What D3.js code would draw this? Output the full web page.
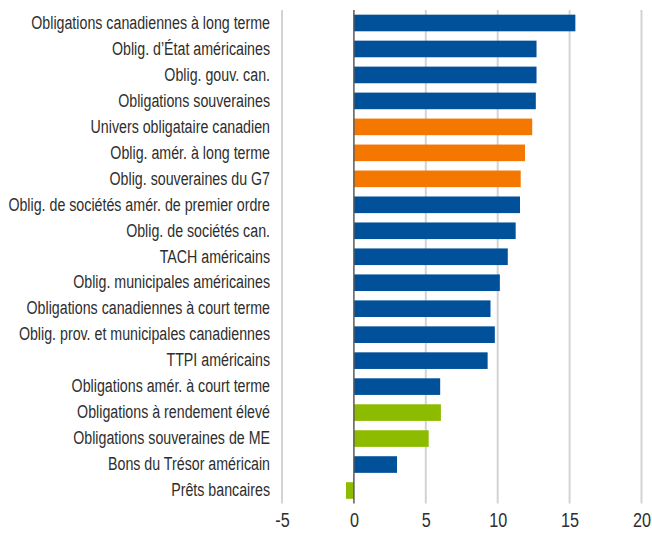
<!DOCTYPE html>
<html>
<head>
<meta charset="utf-8">
<script src="https://cdn.jsdelivr.net/npm/d3@7"></script>
<style>
  body { margin: 0; background: #fff; }
  svg text { font-family: "Liberation Sans", Arial, sans-serif; fill: #2e2e2e; }
</style>
</head>
<body>
<div class="container"></div>
<script>
let categories = [
    "Obligations canadiennes à long terme",
    "Oblig. d’État américaines",
    "Oblig. gouv. can.",
    "Obligations souveraines",
    "Univers obligataire canadien",
    "Oblig. amér. à long terme",
    "Oblig. souveraines du G7",
    "Oblig. de sociétés amér. de premier ordre",
    "Oblig. de sociétés can.",
    "TACH américains",
    "Oblig. municipales américaines",
    "Obligations canadiennes à court terme",
    "Oblig. prov. et municipales canadiennes",
    "TTPI américains",
    "Obligations amér. à court terme",
    "Obligations à rendement élevé",
    "Obligations souveraines de ME",
    "Bons du Trésor américain",
    "Prêts bancaires"
]
let values = [15.4, 12.7, 12.7, 12.65, 12.4, 11.9, 11.6, 11.55, 11.25, 10.7, 10.15, 9.5, 9.8, 9.3, 6.0, 6.05, 5.2, 3.0, -0.55]
let groups = ["b", "b", "b", "b", "o", "o", "o", "b", "b", "b", "b", "b", "b", "b", "b", "g", "g", "b", "g"]
let ticks = [-5, 0, 5, 10, 15, 20]

let colors = { b: '#00509a', o: '#f47800', g: '#8cbb00' }

let width = 652
let height = 533
let margin = { top: 10, left: 282, right: 10, bottom: 29 }
// the reference font is a condensed face: squeeze glyphs horizontally
let squeeze = 0.79

let data = categories.map((c, i) => ({ name: c, value: values[i], group: groups[i] }))

let xScale = d3.scaleLinear()
    .domain([-5, 20])
    .range([282, 641.5])

let yScale = d3.scaleBand()
    .domain(categories)
    .range([margin.top, height - margin.bottom - 0.5])
    .paddingInner(0.36)
    .paddingOuter(0.18)

let svg = d3.select('.container')
    .append('svg')
    .attr('width', width)
    .attr('height', height)

// gridlines
svg.append('g')
    .selectAll('line')
    .data(ticks.filter(t => t !== 0))
    .enter()
    .append('line')
    .attr('x1', d => xScale(d))
    .attr('x2', d => xScale(d))
    .attr('y1', margin.top)
    .attr('y2', height - margin.bottom - 0.5)
    .attr('stroke', '#d3d3d3')
    .attr('stroke-width', 2)

svg.append('g')
    .selectAll('rect')
    .data(data)
    .enter()
    .append('rect')
    .attr('x', d => xScale(Math.min(0, d.value)))
    .attr('width', d => Math.abs(xScale(d.value) - xScale(0)))
    .attr('y', d => yScale(d.name))
    .attr('height', yScale.bandwidth())
    .attr('fill', d => colors[d.group])

// zero line
svg.append('line')
    .attr('x1', xScale(0))
    .attr('x2', xScale(0))
    .attr('y1', margin.top)
    .attr('y2', height - margin.bottom - 0.5)
    .attr('stroke', '#5a5a5a')
    .attr('stroke-width', 1.5)

function condense(sel) {
    sel.each(function () {
        let w = this.getComputedTextLength()
        d3.select(this)
            .attr('textLength', w * squeeze)
            .attr('lengthAdjust', 'spacingAndGlyphs')
    })
}

// category labels
let yAxis = d3.axisLeft(yScale).tickSize(0).tickPadding(0)
svg.append('g')
    .attr('transform', `translate(270,0)`)
    .call(yAxis)
    .call(g => g.select('.domain').remove())
    .selectAll('text')
    .style('font-size', '18px')
    .call(condense)

// x tick labels
let xAxis = d3.axisBottom(xScale).tickValues(ticks).tickFormat(d => String(d)).tickSize(0).tickPadding(0)
svg.append('g')
    .attr('transform', `translate(0,512)`)
    .call(xAxis)
    .call(g => g.select('.domain').remove())
    .selectAll('text')
    .style('font-size', '20.5px')
    .call(condense)
</script>
</body>
</html>
